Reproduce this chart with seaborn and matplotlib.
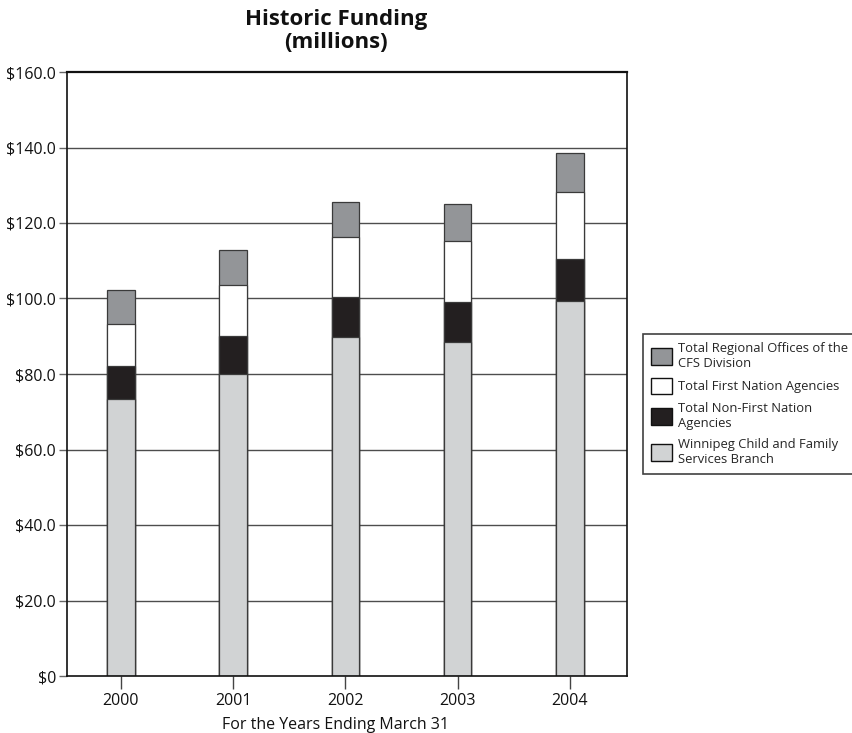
import matplotlib
matplotlib.use("Agg")
import matplotlib.pyplot as plt
import seaborn as sns
import numpy as np
import pandas as pd
from matplotlib.patches import Patch

years = ["2000", "2001", "2002", "2003", "2004"]
winnipeg = [73.4, 80.0, 89.9, 88.5, 99.3]
non_first_nation = [8.7, 10.1, 10.5, 10.6, 11.2]
first_nation = [11.1, 13.5, 15.9, 16.1, 17.7]
regional = [9.1, 9.2, 9.3, 9.8, 10.3]

series_names = [
    "Winnipeg Child and Family\nServices Branch",
    "Total Non-First Nation\nAgencies",
    "Total First Nation Agencies",
    "Total Regional Offices of the\nCFS Division",
]
series_colors = ["#d1d3d4", "#231f20", "#ffffff", "#939598"]
y_ticks = [0, 20, 40, 60, 80, 100, 120, 140, 160]
y_tick_labels = ["$0", "$20.0", "$40.0", "$60.0", "$80.0", "$100.0", "$120.0", "$140.0", "$160.0"]

sns.set_theme(style="white")
plt.rcParams["font.family"] = ["Open Sans", "DejaVu Sans"]

df = pd.DataFrame({
    "year": years,
    "s0": winnipeg,
    "s1": non_first_nation,
    "s2": first_nation,
    "s3": regional,
})
# cumulative tops of each stacked segment
cols = ["s0", "s1", "s2", "s3"]
cum = df[cols].cumsum(axis=1)

fig = plt.figure(figsize=(8.53, 7.33), dpi=100)
ax = fig.add_axes([67 / 853, 1 - 676 / 733, (627 - 67) / 853, (676 - 72) / 733])

# grid behind bars
for v in y_ticks[1:-1]:
    ax.axhline(v, color="#4d4d4d", lw=1.0, zorder=0)

# draw stacked bars from the tallest cumulative total down
for i in range(3, -1, -1):
    sns.barplot(x=df["year"], y=cum[cols[i]], color=series_colors[i], ax=ax,
                width=0.245, edgecolor="#3a3a3a", linewidth=0.9,
                saturation=1, zorder=2)

ax.set_ylim(0, 160)
ax.set_xlim(-0.48, 4.51)
ax.set_yticks(y_ticks)
ax.set_yticklabels(y_tick_labels, fontsize=11.5)
ax.set_xticks(range(len(years)))
ax.set_xticklabels(years, fontsize=11.5)
ax.set_xlabel("")
ax.set_ylabel("")

for side in ["left", "bottom", "right", "top"]:
    ax.spines[side].set_visible(True)
    ax.spines[side].set_color("#111111")
ax.spines["top"].set_linewidth(1.6)
ax.spines["right"].set_linewidth(1.2)
ax.spines["left"].set_linewidth(1.2)
ax.spines["bottom"].set_linewidth(1.2)

ax.tick_params(axis="y", which="both", left=True, length=6, width=1, color="#666666", pad=2, labelcolor="#111111")
ax.tick_params(axis="x", which="both", bottom=True, length=9, width=1, color="#444444", pad=3, labelcolor="#111111")

fig.text(336 / 853, 1 - 9 / 733, "Historic Funding\n(millions)", ha="center", va="top",
         fontsize=16, fontweight="bold", linespacing=1.15, color="#111111")
fig.text(336 / 853, 1 - 725 / 733, "For the Years Ending March 31", ha="center", va="center",
         fontsize=11.5, color="#111111")

handles = [Patch(facecolor=series_colors[i], edgecolor="#111111", linewidth=1.0, label=series_names[i])
           for i in range(3, -1, -1)]
leg = fig.legend(handles=handles, loc="upper left", bbox_to_anchor=(643 / 853, 1 - 334 / 733),
                 frameon=True, fancybox=False, edgecolor="#111111", fontsize=9.4,
                 handlelength=1.6, handleheight=1.55, handletextpad=0.5, labelspacing=0.6,
                 borderpad=0.6, borderaxespad=0)
leg.get_frame().set_linewidth(1.2)

fig.savefig("out.png", dpi=100)
